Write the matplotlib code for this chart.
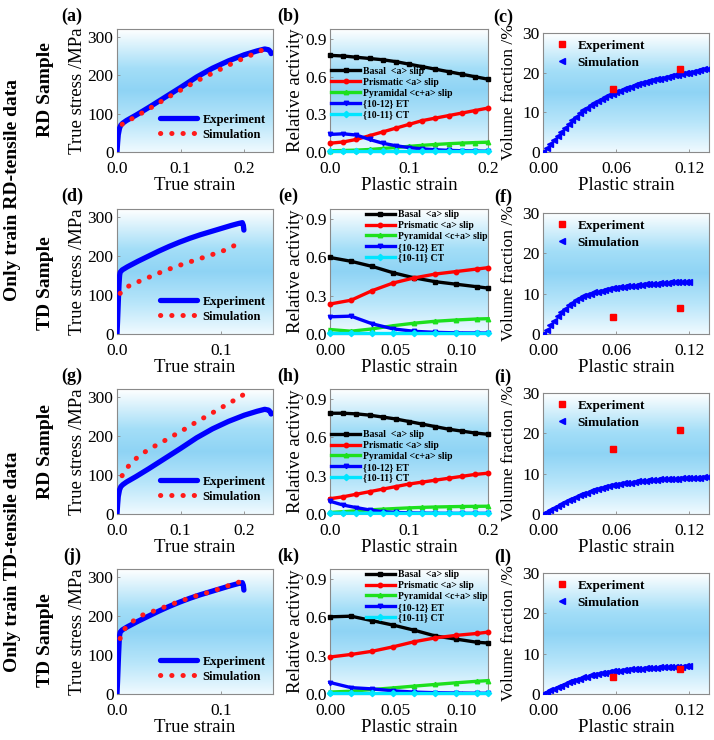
import numpy as np
import matplotlib
matplotlib.use('Agg')
import matplotlib.pyplot as plt
from matplotlib.colors import LinearSegmentedColormap

plt.rcParams['font.family'] = ['Liberation Serif', 'DejaVu Serif']

# ---------------- data ----------------
# stress-strain experiment curves
exp_rd_x = [0, 0.001, 0.002, 0.004, 0.006, 0.009, 0.015, 0.03, 0.05, 0.075, 0.1, 0.125, 0.15, 0.175, 0.2, 0.22, 0.232, 0.238, 0.241, 0.242]
exp_rd_y = [0, 25, 45, 62, 70, 75, 82, 96, 116, 142, 168, 195, 218, 237, 253, 263, 268, 266, 261, 256]
exp_td_x = [0, 0.0005, 0.001, 0.0015, 0.002, 0.0025, 0.003, 0.005, 0.01, 0.02, 0.03, 0.04, 0.05, 0.06, 0.07, 0.08, 0.09, 0.10, 0.11, 0.117, 0.1205, 0.1215, 0.122]
exp_td_y = [0, 30, 65, 100, 130, 150, 158, 164, 172, 186, 199, 212, 224, 235, 245, 254, 262, 270, 278, 283, 285, 278, 266]

# simulations
sim_a_x = [0.008, 0.016, 0.025, 0.033, 0.042, 0.050, 0.059, 0.067, 0.076, 0.084, 0.093, 0.101, 0.110, 0.118, 0.127, 0.135, 0.144, 0.152, 0.161, 0.169, 0.178, 0.186, 0.195, 0.203, 0.212, 0.220, 0.229]
sim_a_y = [72, 80, 88, 96, 104, 112, 121, 129, 138, 146, 154, 162, 170, 178, 186, 193, 200, 207, 214, 221, 228, 234, 241, 247, 253, 259, 266]
sim_d_x = [0.003, 0.010, 0.018, 0.026, 0.034, 0.042, 0.050, 0.058, 0.066, 0.074, 0.082, 0.090, 0.098, 0.106, 0.114]
sim_d_y = [104, 121, 131, 140, 149, 158, 166, 174, 181, 188, 195, 202, 209, 217, 228]
sim_g_x = [0.008, 0.014, 0.020, 0.026, 0.032, 0.040, 0.048, 0.056, 0.064, 0.072, 0.080, 0.088, 0.096, 0.104, 0.112, 0.120, 0.128, 0.136, 0.144, 0.152, 0.160, 0.168, 0.176, 0.184, 0.192, 0.198]
sim_g_y = [98, 115, 126, 136, 145, 155, 163, 171, 178, 185, 193, 200, 208, 215, 223, 231, 238, 246, 253, 261, 269, 276, 284, 291, 298, 305]
sim_j_x = [0.003, 0.006, 0.012, 0.019, 0.026, 0.035, 0.044, 0.052, 0.060, 0.068, 0.077, 0.085, 0.093, 0.101, 0.110, 0.118]
sim_j_y = [142, 163, 179, 194, 204, 212, 221, 229, 237, 244, 252, 258, 264, 272, 280, 287]

# relative activity
act_x_long = [0, 0.0167, 0.0333, 0.05, 0.0667, 0.0833, 0.1, 0.1167, 0.1333, 0.15, 0.1667, 0.1833, 0.2]
act_x_short = [0, 0.016, 0.032, 0.048, 0.064, 0.08, 0.096, 0.112, 0.12]
act_labels = ['Basal  <a> slip', 'Prismatic <a> slip', 'Pyramidal <c+a> slip', '{10-12} ET', '{10-11} CT']

basal_b = [0.77, 0.765, 0.755, 0.745, 0.735, 0.72, 0.70, 0.68, 0.66, 0.64, 0.62, 0.60, 0.58]
prism_b = [0.07, 0.08, 0.10, 0.13, 0.16, 0.19, 0.22, 0.25, 0.27, 0.29, 0.31, 0.33, 0.35]
pyr_b = [0.01, 0.012, 0.015, 0.02, 0.028, 0.036, 0.045, 0.053, 0.06, 0.066, 0.071, 0.075, 0.078]
et_b = [0.14, 0.145, 0.135, 0.10, 0.07, 0.05, 0.035, 0.025, 0.018, 0.013, 0.01, 0.008, 0.006]
ct_b = [0.005, 0.005, 0.005, 0.005, 0.005, 0.005, 0.005, 0.005, 0.005, 0.005, 0.005, 0.005, 0.005]

basal_e = [0.60, 0.57, 0.53, 0.48, 0.44, 0.41, 0.39, 0.37, 0.36]
prism_e = [0.235, 0.265, 0.34, 0.40, 0.44, 0.47, 0.49, 0.51, 0.52]
pyr_e = [0.035, 0.022, 0.04, 0.065, 0.085, 0.10, 0.11, 0.118, 0.12]
et_e = [0.135, 0.14, 0.08, 0.04, 0.021, 0.013, 0.009, 0.008, 0.007]
ct_e = [0.004, 0.004, 0.004, 0.004, 0.004, 0.004, 0.004, 0.004, 0.004]

basal_h = [0.79, 0.79, 0.785, 0.775, 0.76, 0.745, 0.725, 0.705, 0.685, 0.665, 0.65, 0.635, 0.625]
prism_h = [0.12, 0.135, 0.155, 0.175, 0.195, 0.215, 0.235, 0.25, 0.265, 0.28, 0.295, 0.31, 0.32]
pyr_h = [0.012, 0.018, 0.025, 0.032, 0.038, 0.043, 0.048, 0.052, 0.055, 0.057, 0.059, 0.06, 0.061]
et_h = [0.10, 0.07, 0.05, 0.032, 0.018, 0.012, 0.009, 0.007, 0.006, 0.005, 0.005, 0.005, 0.005]
ct_h = [0.008, 0.007, 0.006, 0.006, 0.005, 0.005, 0.005, 0.005, 0.005, 0.005, 0.005, 0.005, 0.005]

basal_k = [0.605, 0.61, 0.575, 0.54, 0.50, 0.455, 0.43, 0.405, 0.40]
prism_k = [0.29, 0.31, 0.335, 0.37, 0.41, 0.44, 0.46, 0.475, 0.485]
pyr_k = [0.015, 0.022, 0.035, 0.048, 0.062, 0.075, 0.088, 0.10, 0.105]
et_k = [0.09, 0.05, 0.04, 0.025, 0.015, 0.01, 0.008, 0.006, 0.006]
ct_k = [0.005, 0.005, 0.005, 0.005, 0.005, 0.005, 0.005, 0.005, 0.005]

# volume fraction
vf_exp_x = [0.057, 0.112]
vf_exp_c = [16.0, 20.8]
vf_exp_f = [4.3, 6.5]
vf_exp_i = [16.0, 20.8]
vf_exp_l = [4.3, 6.3]

vf_x_long = [0, 0.003, 0.006, 0.009, 0.012, 0.015, 0.018, 0.021, 0.024, 0.027, 0.030, 0.033, 0.036, 0.039, 0.042, 0.045,
             0.048, 0.051, 0.054, 0.057, 0.060, 0.063, 0.066, 0.069, 0.072, 0.075, 0.078, 0.081, 0.084, 0.087, 0.090,
             0.093, 0.096, 0.099, 0.102, 0.105, 0.108, 0.111, 0.114, 0.117, 0.120, 0.123, 0.126, 0.129, 0.132, 0.135]
vf_x_short = [0, 0.003, 0.006, 0.009, 0.012, 0.015, 0.018, 0.021, 0.024, 0.027, 0.030, 0.033, 0.036, 0.039, 0.042, 0.045,
              0.048, 0.051, 0.054, 0.057, 0.060, 0.063, 0.066, 0.069, 0.072, 0.075, 0.078, 0.081, 0.084, 0.087, 0.090,
              0.093, 0.096, 0.099, 0.102, 0.105, 0.108, 0.111, 0.114, 0.117, 0.120]
vf_sim_c = [0.0, 1.0, 2.0, 3.1, 4.1, 5.1, 6.1, 7.1, 8.0, 8.9, 9.8, 10.5, 11.2, 11.8, 12.4, 12.9, 13.4, 13.9, 14.3, 14.7,
            15.1, 15.5, 15.9, 16.2, 16.5, 16.8, 17.1, 17.4, 17.6, 17.9, 18.1, 18.3, 18.5, 18.7, 18.9, 19.1, 19.3, 19.5,
            19.7, 19.8, 20.0, 20.2, 20.4, 20.6, 20.8, 21.0]
vf_sim_f = [0.0, 1.1, 2.2, 3.3, 4.4, 5.4, 6.3, 7.1, 7.8, 8.4, 8.9, 9.3, 9.7, 10.0, 10.3, 10.5, 10.7, 10.9, 11.1, 11.3,
            11.4, 11.6, 11.7, 11.8, 11.9, 12.0, 12.1, 12.2, 12.3, 12.4, 12.5, 12.5, 12.6, 12.7, 12.7, 12.8, 12.8, 12.9,
            12.9, 13.0, 13.0]
vf_sim_i = [0.0, 0.5, 1.0, 1.5, 2.0, 2.5, 2.9, 3.4, 3.8, 4.2, 4.6, 4.9, 5.3, 5.6, 5.9, 6.2, 6.4, 6.6, 6.9, 7.1, 7.2,
            7.4, 7.6, 7.7, 7.8, 8.0, 8.1, 8.2, 8.3, 8.4, 8.4, 8.5, 8.6, 8.6, 8.7, 8.7, 8.8, 8.8, 8.9, 8.9, 8.9, 9.0,
            9.0, 9.0, 9.1, 9.1]
vf_sim_l = [0.0, 0.45, 0.9, 1.3, 1.7, 2.1, 2.5, 2.9, 3.2, 3.5, 3.8, 4.1, 4.3, 4.6, 4.8, 5.0, 5.2, 5.3, 5.5, 5.6, 5.7,
            5.8, 5.9, 6.0, 6.1, 6.2, 6.3, 6.3, 6.4, 6.4, 6.5, 6.5, 6.6, 6.6, 6.7, 6.7, 6.8, 6.8, 6.8, 6.9, 6.9]

# ---------------- layout ----------------
W, H = 714, 740
fig = plt.figure(figsize=(W / 100, H / 100), dpi=100)


def rect(l, r, t, b):
    return [l / W, 1 - b / H, (r - l) / W, (b - t) / H]


cols = [(117, 273), (330, 488), (543, 709)]
rows = [(29, 152), (209, 334), (389, 514), (569, 694)]

bg_cmap = LinearSegmentedColormap.from_list(
    'bg', [(0.0, (0.94, 0.98, 1.0)), (0.25, (0.72, 0.90, 0.98)), (0.5, (0.56, 0.83, 0.96)),
           (0.68, (0.64, 0.87, 0.97)), (1.0, (1.0, 1.0, 1.0))])
grad = np.linspace(0, 1, 256).reshape(-1, 1)

TICK_FS = 12.5
LAB_FS = 13.5


def style(ax, xpad=6.5, ypad=2.5):
    ax.imshow(grad, extent=[0, 1, 0, 1], transform=ax.transAxes, cmap=bg_cmap, aspect='auto',
              origin='lower', zorder=0, interpolation='bicubic')
    for s in ax.spines.values():
        s.set_color('#8a8a8a')
        s.set_linewidth(0.8)
    ax.tick_params(direction='in', length=2.5, width=0.6, color='#8a8a8a', labelsize=TICK_FS)
    ax.tick_params(axis='x', pad=xpad)
    ax.tick_params(axis='y', pad=ypad)


def stress_panel(col, row, sx, sy, exp_x, exp_y, xmax, xticks, xtl, letter):
    l, r = cols[col]
    t, b = rows[row]
    ax = fig.add_axes(rect(l, r, t, b))
    style(ax)
    ax.plot(exp_x, exp_y, color='#0000ff', lw=3.8, solid_capstyle='round', solid_joinstyle='round',
            label='Experiment', zorder=3)
    ax.plot(sx, sy, color='#ff1a1a', lw=3.6, ls=(0, (0.05, 2.2)), dash_capstyle='round',
            label='Simulation', zorder=4)
    ax.set_xlim(0, xmax)
    ax.set_ylim(0, 320)
    ax.set_xticks(xticks)
    ax.set_xticklabels(xtl)
    ax.set_yticks([0, 100, 200, 300])
    ax.set_xlabel('True strain', fontsize=LAB_FS, labelpad=0)
    ax.set_ylabel('True stress /MPa', fontsize=LAB_FS, labelpad=1)
    ax.legend(loc='lower right', bbox_to_anchor=(1.0, 0.03), frameon=False,
              prop={'weight': 'bold', 'size': 9}, handlelength=3.0, handletextpad=0.4,
              labelspacing=0.25, borderaxespad=0.2)
    fig.text((l - 45) / W, 1 - (t - 13) / H, letter, fontsize=13, fontweight='bold', ha='center', va='center')
    return ax


def activity_panel(col, row, x, series, xmax, xticks, xtl, letter, leg_anchor):
    l, r = cols[col]
    t, b = rows[row]
    ax = fig.add_axes(rect(l, r, t, b))
    style(ax)
    colors = ['black', '#ff0000', '#1de01d', '#0000ff', '#00e5ff']
    markers = ['s', 'o', '^', 'v', 'D']
    for ys, c, m, lab in zip(series, colors, markers, act_labels):
        ax.plot(x, ys, color=c, lw=2.4, marker=m, ms=3.2, label=lab, zorder=3, clip_on=False)
    ax.set_xlim(0, xmax)
    ax.set_ylim(0, 0.98)
    ax.set_xticks(xticks)
    ax.set_xticklabels(xtl)
    ax.set_yticks([0, 0.3, 0.6, 0.9])
    ax.set_yticklabels(['0.0', '0.3', '0.6', '0.9'])
    ax.set_xlabel('Plastic strain', fontsize=LAB_FS, labelpad=0)
    ax.set_ylabel('Relative activity', fontsize=LAB_FS, labelpad=1)
    ax.legend(loc='upper left', bbox_to_anchor=leg_anchor, frameon=False,
              prop={'weight': 'bold', 'size': 7}, handlelength=3.0, handletextpad=0.3,
              labelspacing=0.2, borderaxespad=0.0, borderpad=0.1)
    fig.text((l - 42) / W, 1 - (t - 13) / H, letter, fontsize=13, fontweight='bold', ha='center', va='center')
    return ax


def vf_panel(col, row, sx, sy, ey, letter):
    l, r = cols[col]
    t, b = rows[row]
    t += 4
    ax = fig.add_axes(rect(l, r, t, b))
    style(ax)
    ax.plot(vf_exp_x, ey, ls='none', marker='s', ms=4.2, color='#ff0000', label='Experiment', zorder=4)
    ax.plot(sx, sy, ls='none', marker='<', ms=4.5, color='#0000ff', label='Simulation', zorder=3)
    ax.set_xlim(0, 0.136)
    ax.set_ylim(0, 30)
    ax.set_xticks([0, 0.06, 0.12])
    ax.set_xticklabels(['0.00', '0.06', '0.12'])
    ax.set_yticks([0, 10, 20, 30])
    ax.set_xlabel('Plastic strain', fontsize=LAB_FS, labelpad=0)
    ax.set_ylabel('Volume fraction /%', fontsize=12.5, labelpad=4)
    ax.legend(loc='upper left', bbox_to_anchor=(0.04, 0.99), frameon=False,
              prop={'weight': 'bold', 'size': 9.5}, handlelength=1.0, handletextpad=0.7,
              labelspacing=0.35, borderaxespad=0.0, markerscale=1.0)
    fig.text((l - 40) / W, 1 - (t - 16) / H, letter, fontsize=13, fontweight='bold', ha='center', va='center')
    return ax


# row 1
stress_panel(0, 0, sim_a_x, sim_a_y, exp_rd_x, exp_rd_y, 0.245, [0, 0.1, 0.2], ['0.0', '0.1', '0.2'], '(a)')
activity_panel(1, 0, act_x_long, [basal_b, prism_b, pyr_b, et_b, ct_b], 0.2, [0, 0.1, 0.2],
               ['0.0', '0.1', '0.2'], '(b)', (0.0, 0.70))
vf_panel(2, 0, vf_x_long, vf_sim_c, vf_exp_c, '(c)')
# row 2
stress_panel(0, 1, sim_d_x, sim_d_y, exp_td_x, exp_td_y, 0.15, [0, 0.1], ['0.0', '0.1'], '(d)')
activity_panel(1, 1, act_x_short, [basal_e, prism_e, pyr_e, et_e, ct_e], 0.12, [0, 0.05, 0.10],
               ['0.00', '0.05', '0.10'], '(e)', (0.22, 1.0))
vf_panel(2, 1, vf_x_short, vf_sim_f, vf_exp_f, '(f)')
# row 3
stress_panel(0, 2, sim_g_x, sim_g_y, exp_rd_x, exp_rd_y, 0.245, [0, 0.1, 0.2], ['0.0', '0.1', '0.2'], '(g)')
activity_panel(1, 2, act_x_long, [basal_h, prism_h, pyr_h, et_h, ct_h], 0.2, [0, 0.1, 0.2],
               ['0.0', '0.1', '0.2'], '(h)', (0.0, 0.68))
vf_panel(2, 2, vf_x_long, vf_sim_i, vf_exp_i, '(i)')
# row 4
stress_panel(0, 3, sim_j_x, sim_j_y, exp_td_x, exp_td_y, 0.15, [0, 0.1], ['0.0', '0.1'], '(j)')
activity_panel(1, 3, act_x_short, [basal_k, prism_k, pyr_k, et_k, ct_k], 0.12, [0, 0.05, 0.10],
               ['0.00', '0.05', '0.10'], '(k)', (0.22, 1.0))
vf_panel(2, 3, vf_x_short, vf_sim_l, vf_exp_l, '(l)')

# row labels
for txt, x, y in [('Only train RD-tensile data', 13, 190), ('RD Sample', 45, 90), ('TD Sample', 45, 283),
                  ('Only train TD-tensile data', 13, 562), ('RD Sample', 45, 452), ('TD Sample', 45, 640)]:
    fig.text(x / W, 1 - y / H, txt, rotation=90, ha='center', va='center', fontsize=14, fontweight='bold')

fig.savefig('out.png', dpi=100)
